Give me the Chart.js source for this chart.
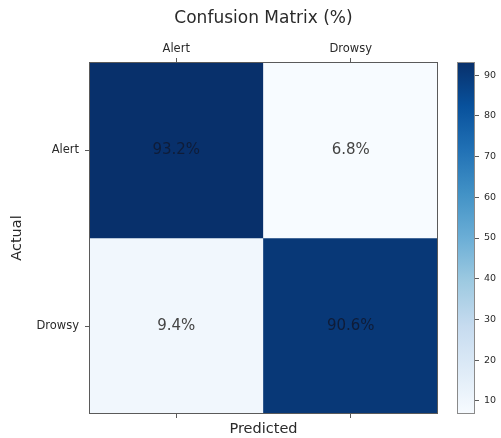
<!DOCTYPE html>
<html>
<head>
<meta charset="utf-8">
<script src="https://cdn.jsdelivr.net/npm/chart.js@4.4.1/dist/chart.umd.min.js"></script>
<style>
html, body { margin: 0; padding: 0; background: #fff; }
#wrap { width: 501px; height: 438px; position: relative; }
</style>
</head>
<body>
<div id="wrap"><canvas id="cm"></canvas></div>
<script>
// Confusion matrix values (%), one array per actual class
const predictedLabels = ['Alert', 'Drowsy'];
const actualLabels = ['Alert', 'Drowsy'];
const alertRow = [93.2, 6.8];
const drowsyRow = [9.4, 90.6];
const colorbarTicks = [10, 20, 30, 40, 50, 60, 70, 80, 90];

const rows = [alertRow, drowsyRow];
const allValues = rows.flat();
const vMin = Math.min(...allValues);
const vMax = Math.max(...allValues);

const FONT = '"DejaVu Sans", "Liberation Sans", sans-serif';
const TEXT = '#2a2a2a';
const LINE = '#5a5a5a';

// "Blues" sequential colour stops
const bluesStops = ['#f7fbff', '#deebf7', '#c6dbef', '#9ecae1', '#6baed6',
                    '#4292c6', '#2171b5', '#08519c', '#08306b'];
function hexToRgb(h) {
  const n = parseInt(h.slice(1), 16);
  return [(n >> 16) & 255, (n >> 8) & 255, n & 255];
}
const bluesRgb = bluesStops.map(hexToRgb);
function blues(t) {
  t = Math.max(0, Math.min(1, t));
  const seg = t * (bluesRgb.length - 1);
  const i = Math.min(Math.floor(seg), bluesRgb.length - 2);
  const f = seg - i;
  const a = bluesRgb[i], b = bluesRgb[i + 1];
  const c = a.map((v, k) => Math.round(v + (b[k] - v) * f));
  return `rgb(${c[0]},${c[1]},${c[2]})`;
}
const norm = v => (v - vMin) / (vMax - vMin);

// one floating-bar dataset per matrix row; each bar fills one cell
const datasets = rows.map((row, r) => {
  const base = actualLabels.length - 1 - r;
  return {
    label: actualLabels[r],
    data: row.map(() => [base, base + 1]),
    values: row,
    backgroundColor: row.map(v => blues(norm(v))),
    borderWidth: 0,
    barPercentage: 1,
    categoryPercentage: 1
  };
});

const cellLabels = {
  id: 'cellLabels',
  afterDatasetsDraw(chart) {
    const ctx = chart.ctx;
    ctx.save();
    ctx.font = '15px ' + FONT;
    ctx.textAlign = 'center';
    ctx.textBaseline = 'middle';
    chart.data.datasets.forEach((ds, di) => {
      chart.getDatasetMeta(di).data.forEach((bar, i) => {
        const v = ds.values[i];
        ctx.fillStyle = norm(v) > 0.5 ? '#0f1c38' : '#444';
        ctx.fillText(v.toFixed(1) + '%', bar.x, (bar.y + bar.base) / 2);
      });
    });
    ctx.restore();
  }
};

const frameAndColorbar = {
  id: 'frameAndColorbar',
  afterDraw(chart) {
    const { ctx, chartArea: a } = chart;
    const cb = chart.scales.cb;
    ctx.save();
    const top = cb.getPixelForValue(vMax);
    const bottom = cb.getPixelForValue(vMin);
    const x1 = cb.left, x0 = x1 - 18;
    const g = ctx.createLinearGradient(0, bottom, 0, top);
    bluesStops.forEach((c, i) => g.addColorStop(i / (bluesStops.length - 1), c));
    ctx.fillStyle = g;
    ctx.fillRect(x0, top, x1 - x0, bottom - top);
    ctx.strokeStyle = '#8a8a8a';
    ctx.lineWidth = 1;
    ctx.strokeRect(x0 + 0.5, top + 0.5, x1 - x0 - 1, bottom - top - 1);
    ctx.strokeStyle = LINE;
    ctx.strokeRect(a.left + 0.5, a.top + 0.5, a.width - 1, a.height - 1);
    ctx.restore();
  }
};

const tickGrid = { display: true, drawOnChartArea: false, offset: false, tickLength: 4, color: LINE };

new Chart(document.getElementById('cm'), {
  type: 'bar',
  data: { labels: predictedLabels, datasets },
  options: {
    responsive: true,
    maintainAspectRatio: false,
    animation: false,
    devicePixelRatio: 1,
    layout: { padding: 0 },
    plugins: { legend: { display: false }, tooltip: { enabled: false } },
    scales: {
      x: {
        type: 'category', position: 'bottom', offset: true, stacked: true,
        grid: tickGrid, border: { display: false },
        ticks: { display: false },
        title: { display: true, text: 'Predicted', color: TEXT,
                 font: { family: FONT, size: 14.5 }, padding: { top: 0, bottom: 0 } },
        afterFit(s) { s.height = 24; }
      },
      x2: {
        type: 'category', position: 'top', offset: true, labels: predictedLabels,
        grid: tickGrid, border: { display: false },
        ticks: { color: TEXT, font: { family: FONT, size: 11.5 }, padding: 2, maxRotation: 0 },
        title: { display: true, text: 'Confusion Matrix (%)', color: TEXT,
                 font: { family: FONT, size: 17 }, padding: { top: 8, bottom: 0 } },
        afterFit(s) { s.height = 62; }
      },
      y: {
        type: 'linear', position: 'left', min: 0, max: actualLabels.length, stacked: false,
        afterBuildTicks(s) {
          s.ticks = actualLabels.map((_, r) => ({ value: r + 0.5 }));
        },
        grid: tickGrid, border: { display: false },
        ticks: {
          color: TEXT, font: { family: FONT, size: 11.5 }, padding: 6,
          callback: v => actualLabels[actualLabels.length - 1 - Math.floor(v)]
        },
        title: { display: true, text: 'Actual', color: TEXT,
                 font: { family: FONT, size: 14.5 }, padding: { top: 9, bottom: 0 } },
        afterFit(s) { s.width = 89; }
      },
      gap: {
        type: 'linear', position: 'right', weight: 0, display: true,
        grid: { display: false }, border: { display: false }, ticks: { display: false },
        afterFit(s) { s.width = 37; }
      },
      cb: {
        type: 'linear', position: 'right', weight: 1, min: vMin, max: vMax,
        afterBuildTicks(s) { s.ticks = colorbarTicks.map(v => ({ value: v })); },
        grid: { display: true, drawOnChartArea: false, tickLength: 4, color: LINE },
        border: { display: false },
        ticks: { color: TEXT, font: { family: FONT, size: 9.5 }, padding: 5 },
        afterFit(s) { s.width = 26; }
      }
    }
  },
  plugins: [cellLabels, frameAndColorbar]
});
</script>
</body>
</html>
